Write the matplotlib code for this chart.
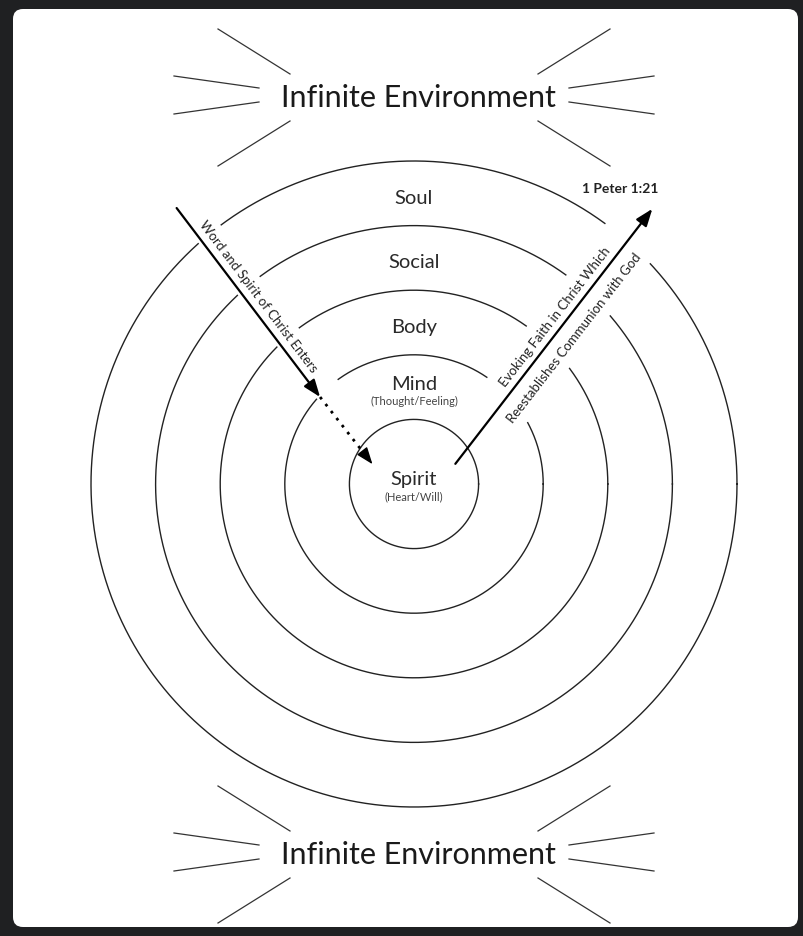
import numpy as np
import matplotlib.pyplot as plt
from matplotlib.patches import FancyBboxPatch

# Diagram content (innermost ring first)
layers = ["Spirit", "Mind", "Body", "Social", "Soul"]
sublabels = ["(Heart/Will)", "(Thought/Feeling)", "", "", ""]
env_label = "Infinite Environment"
in_text = "Word and Spirit of Christ Enters"
out_text = ["Evoking Faith in Christ Which", "Reestablishes Communion with God"]
verse = "1 Peter 1:21"

# geometry in pixel units (axes span the whole figure)
CX, CY = 414, 485
RING = 64.6
LINE = "#222222"
FONT = ["Lato", "DejaVu Sans"]


def polar(r, deg):
    a = np.radians(deg)
    return np.array([CX + r * np.cos(a), CY - r * np.sin(a)])


def frame(p0, p1):
    d = p1 - p0
    L = np.hypot(*d)
    u = d / L
    n = np.array([u[1], -u[0]])
    rot = np.degrees(np.arctan2(-u[1], u[0]))
    return u, n, L, rot


def in_strip(x, y, p0, p1, lo, hi, t0, t1):
    u, n, L, _ = frame(p0, p1)
    dx, dy = x - p0[0], y - p0[1]
    t = dx * u[0] + dy * u[1]
    s = dx * n[0] + dy * n[1]
    return (s > lo) & (s < hi) & (t > t0) & (t < L + t1)


# arrows: (radius, angle) about the centre
in_tail, in_tip, in_end = polar(364, 130.7), polar(128, 137.2), polar(46, 154.5)
out_tail, out_tip = polar(46, 26), polar(364, 49.1)

fig = plt.figure(figsize=(8.04, 9.37), dpi=100, facecolor="#1f2022")
ax = fig.add_axes([0, 0, 1, 1])
ax.set_xlim(0, 804)
ax.set_ylim(937, 0)
ax.axis("off")
ax.add_patch(FancyBboxPatch((13, 10), 785, 918, boxstyle="round,pad=0,rounding_size=10",
                            fc="white", ec="none", zorder=0))

# rings with gaps where the arrows and their captions pass
theta = np.linspace(0, 2 * np.pi, 3000)
for i in range(len(layers)):
    r = RING * (i + 1)
    x = CX + r * np.cos(theta)
    y = CY - r * np.sin(theta)
    gap = in_strip(x, y, in_tail, in_tip, -4, 25, 0, 3)
    if i > 0:
        gap |= in_strip(x, y, out_tail, out_tip, -32, 28, 45, 5)
    x[gap] = np.nan
    ax.plot(x, y, color=LINE, lw=1.0, zorder=2)

# ring labels
for i, (name, sub) in enumerate(zip(layers, sublabels)):
    if i == 0:
        base = CY + 0.5
    else:
        mid = CY - RING * (i + 0.5)
        base = mid + (1.5 if sub else 9.5)
    ax.text(CX, base, name, ha="center", va="baseline", fontsize=14.5,
            family=FONT, color="#2a2a2a", zorder=3)
    if sub:
        ax.text(CX, base + 15, sub, ha="center", va="baseline", fontsize=8,
                family=FONT, color="#444444", zorder=3)

# "Infinite Environment" with rays, top and bottom
rays = [((-124, -21), (-196, -66)), ((-155, -7), (-240, -19)),
        ((-155, 7), (-240, 19)), ((-124, 26), (-196, 71))]
for ey in (96, 853):
    ax.text(418, ey + 11, env_label, ha="center", va="baseline", fontsize=22,
            family=FONT, color="#1a1a1a")
    for (ix, iy), (ox, oy) in rays:
        for sgn in (-1, 1):
            ax.plot([CX + sgn * ix, CX + sgn * ox], [ey + iy, ey + oy],
                    color="#333333", lw=0.9)

head = dict(arrowstyle="-|>,head_length=0.8,head_width=0.3", mutation_scale=13,
            color="black", shrinkA=0, shrinkB=0)

# incoming arrow + dotted continuation
ax.annotate("", xy=in_tip, xytext=in_tail, arrowprops=dict(lw=1.6, **head), zorder=4)
u, n, L, rot = frame(in_tip, in_end)
near = in_end - u * 10
ax.plot([in_tip[0], near[0]], [in_tip[1], near[1]], color="black", lw=2,
        linestyle=(0, (1, 2.2)), zorder=4)
ax.annotate("", xy=in_end, xytext=near, arrowprops=dict(lw=1.0, **head), zorder=4)

u, n, L, rot = frame(in_tail, in_tip)
pos = in_tail + u * 119 + n * 12
ax.text(pos[0], pos[1], in_text, rotation=rot, rotation_mode="anchor", ha="center",
        va="center", fontsize=9.5, family=FONT, color="#222222")

# outgoing arrow
ax.annotate("", xy=out_tip, xytext=out_tail, arrowprops=dict(lw=1.6, **head), zorder=4)
u, n, L, rot = frame(out_tail, out_tip)
for txt, t, s in zip(out_text, (178, 173), (11.5, -17)):
    pos = out_tail + u * t + n * s
    ax.text(pos[0], pos[1], txt, rotation=rot, rotation_mode="anchor", ha="center",
            va="center", fontsize=9.5, family=FONT, color="#222222")

ax.text(620, 189, verse, ha="center", va="center", fontsize=10, fontweight="bold",
        family=FONT, color="#222222")

fig.savefig("out.png", dpi=100, facecolor=fig.get_facecolor())
